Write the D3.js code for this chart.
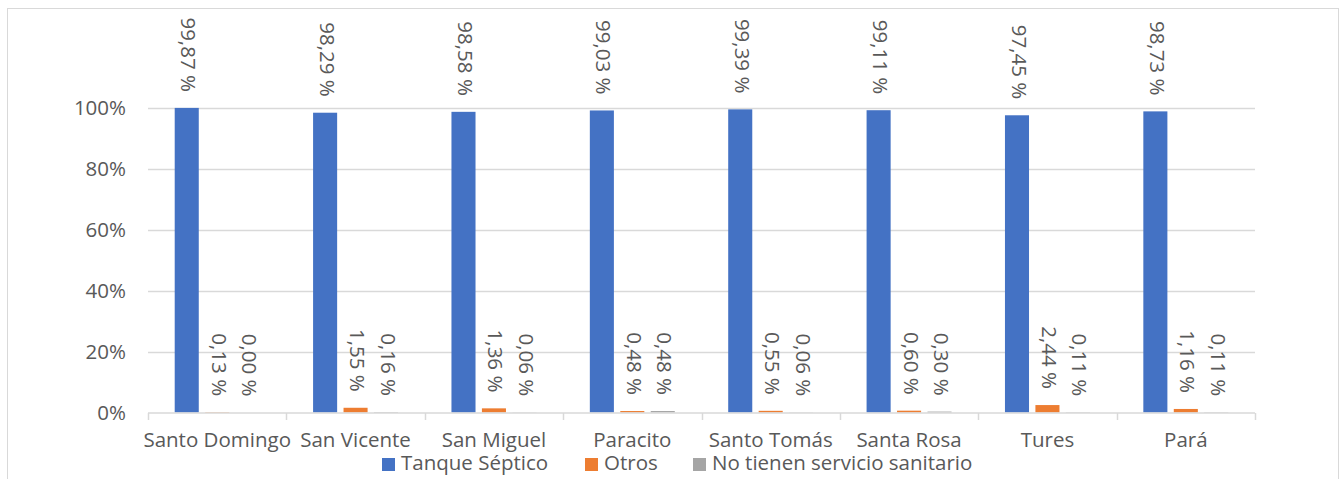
<!DOCTYPE html>
<html><head><meta charset="utf-8">
<script src="https://cdn.jsdelivr.net/npm/d3@7"></script>
<style>body{margin:0;background:#fff}svg{display:block}text{font-family:"Open Sans",Lato,sans-serif;fill:#595959}</style>
</head><body><svg id="c" width="1344" height="479"></svg>
<script>
const categories = ["Santo Domingo","San Vicente","San Miguel","Paracito","Santo Tomás","Santa Rosa","Tures","Pará"];
const seriesNames = ["Tanque Séptico","Otros","No tienen servicio sanitario"];
const tanque = [99.87,98.29,98.58,99.03,99.39,99.11,97.45,98.73];
const otros = [0.13,1.55,1.36,0.48,0.55,0.60,2.44,1.16];
const noTienen = [0.00,0.16,0.06,0.48,0.06,0.30,0.11,0.11];
const yTicks = [0,20,40,60,80,100];
const colors = ["#4472C4","#ED7D31","#A5A5A5"];
const values = [tanque, otros, noTienen];
const FS = "20.5px";

const svg = d3.select("#c");
svg.append("rect").attr("x",7.5).attr("y",8.5).attr("width",1331).attr("height",480).attr("fill","none").attr("stroke","#D9D9D9");

const x0 = d3.scaleBand().domain(categories).range([148,1255]).padding(0);
const x1 = d3.scaleBand().domain(seriesNames).range([x0.bandwidth()*0.193, x0.bandwidth()*0.807]).paddingInner(0.21);
const y = d3.scaleLinear().domain([0,100]).range([412.5,107.5]);

// gridlines
svg.append("g").selectAll("line").data(yTicks.filter(d=>d>0)).join("line")
  .attr("x1",148).attr("x2",1255).attr("y1",d=>Math.round(y(d))+0.5).attr("y2",d=>Math.round(y(d))+0.5)
  .attr("stroke","#D9D9D9").attr("stroke-width",1.5);

// y axis labels
const yAxis = d3.axisLeft(y).tickValues(yTicks).tickFormat(d=>d+"%").tickSize(0).tickPadding(22);
const ya = svg.append("g").attr("transform","translate(148,0)").call(yAxis);
ya.select(".domain").remove();
ya.selectAll("text").style("font-size",FS).style("font-family","'Open Sans'").attr("fill","#595959");

// bars
const data = [];
categories.forEach((c,i)=>seriesNames.forEach((s,j)=>data.push({c,s,j,v:values[j][i]})));
const g = svg.append("g");
g.selectAll("rect").data(data).join("rect")
  .attr("x",d=>x0(d.c)+x1(d.s)).attr("width",x1.bandwidth())
  .attr("y",d=>y(d.v)).attr("height",d=>y(0)-y(d.v)).attr("fill",d=>colors[d.j]);

// labels
g.selectAll("text").data(data).join("text")
  .attr("transform",d=>`translate(${x0(d.c)+x1(d.s)+x1.bandwidth()/2},${y(d.v)-16}) rotate(90)`)
  .attr("text-anchor","end").attr("dominant-baseline","middle")
  .style("font-size",FS)
  .text(d=>d.v.toFixed(2).replace(".",",")+" %");

// x axis
const xAxis = d3.axisBottom(x0).tickSize(0).tickPadding(19);
const xa = svg.append("g").attr("transform","translate(0,413)").call(xAxis);
xa.select(".domain").attr("stroke","#D9D9D9").attr("stroke-width",1.5).attr("d","M148,0H1255");
xa.selectAll("text").style("font-size",FS).style("font-family","'Open Sans'").attr("fill","#595959");
const bounds = categories.map(c=>x0(c)).concat([1255]);
svg.append("g").selectAll("line").data(bounds).join("line")
  .attr("x1",d=>Math.round(d)+0.5).attr("x2",d=>Math.round(d)+0.5).attr("y1",413).attr("y2",420)
  .attr("stroke","#D9D9D9").attr("stroke-width",1.5);

// legend
const legX = [382,585,693];
const lg = svg.append("g").selectAll("g").data(seriesNames).join("g")
  .attr("transform",(d,i)=>`translate(${legX[i]},458)`);
lg.append("rect").attr("width",13).attr("height",13).attr("fill",(d,i)=>colors[i]);
lg.append("text").attr("x",19).attr("y",7).attr("dominant-baseline","middle").style("font-size",FS).text(d=>d);
</script></body></html>
